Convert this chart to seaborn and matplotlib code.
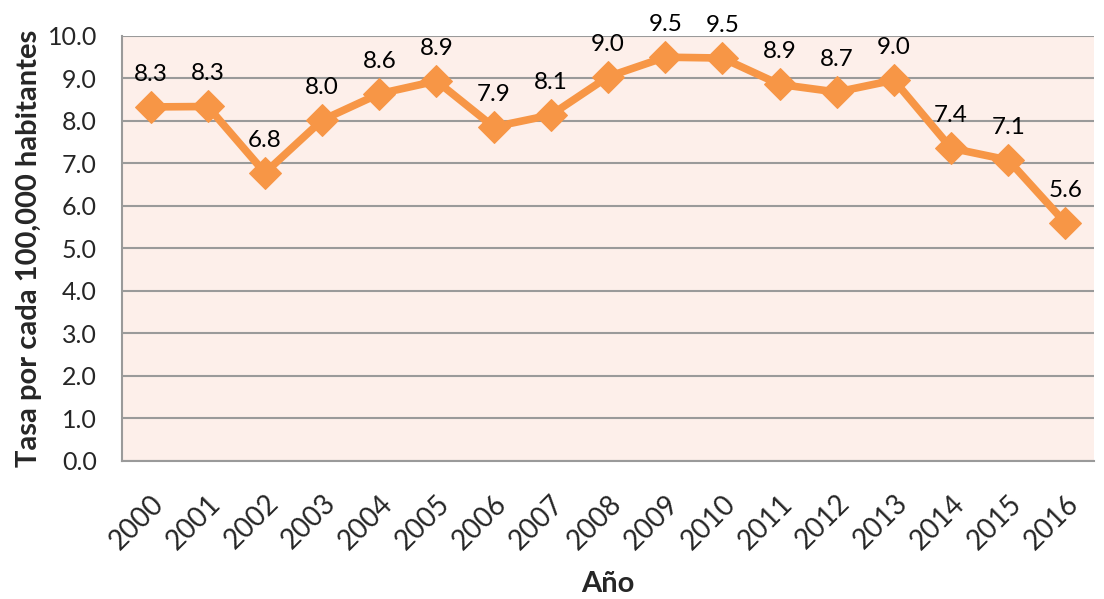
import pandas as pd
import matplotlib
matplotlib.use("Agg")
import matplotlib.pyplot as plt
import matplotlib.ticker as ticker
import seaborn as sns

# Data
years = ["2000", "2001", "2002", "2003", "2004", "2005", "2006", "2007", "2008",
         "2009", "2010", "2011", "2012", "2013", "2014", "2015", "2016"]
rates = [8.33, 8.34, 6.78, 8.02, 8.64, 8.94, 7.86, 8.14, 9.04,
         9.50, 9.48, 8.86, 8.68, 8.96, 7.36, 7.08, 5.60]

df = pd.DataFrame({"year": years, "rate": rates})
df["pos"] = range(len(df))

sns.set_style("white")
plt.rcParams["font.family"] = ["Lato", "DejaVu Sans"]

orange = "#F79646"
grid_gray = "#9a9a9a"

fig = plt.figure(figsize=(11.04, 5.99), dpi=100)
ax = fig.add_axes([0.1105, 0.2304, 0.8805, 0.7096])
ax.set_facecolor("#FDEFEA")

sns.lineplot(data=df, x="pos", y="rate", ax=ax, color=orange, linewidth=5.5,
             marker="D", markersize=16, markeredgecolor=orange, zorder=3)

# Data labels above each point
for x, y in zip(df["pos"], df["rate"]):
    ax.annotate(f"{y:.1f}", (x, y), xytext=(0, 16), textcoords="offset points",
                ha="center", va="bottom", fontsize=17.5, color="black")

ax.set_xlim(-0.5, len(years) - 0.5)
ax.set_ylim(0, 10)
ax.yaxis.set_major_locator(ticker.MultipleLocator(1))
ax.yaxis.set_major_formatter(ticker.FormatStrFormatter("%.1f"))
ax.set_xticks(df["pos"])
ax.set_xticklabels(years, rotation=45, ha="right", rotation_mode="anchor")

# Category boundaries as tick marks, like the original
ax.set_xticks([i - 0.5 for i in range(len(years) + 1)], minor=True)
ax.tick_params(axis="x", which="major", length=0, labelsize=20, pad=21)
ax.tick_params(axis="x", which="minor", length=9, width=1.5, color=grid_gray)
ax.tick_params(axis="y", length=7, width=1.5, color=grid_gray, labelsize=18, pad=11)

ax.grid(axis="y", color=grid_gray, linewidth=1.5)
ax.set_axisbelow(True)
for side in ["top", "right"]:
    ax.spines[side].set_visible(False)
for side in ["left", "bottom"]:
    ax.spines[side].set_color(grid_gray)
    ax.spines[side].set_linewidth(1.5)

ax.set_xlabel("Año", fontsize=21, fontweight="bold", labelpad=12)
ax.set_ylabel("Tasa por cada 100,000 habitantes", fontsize=21, fontweight="bold", labelpad=4)

fig.savefig("out.png", dpi=100)
